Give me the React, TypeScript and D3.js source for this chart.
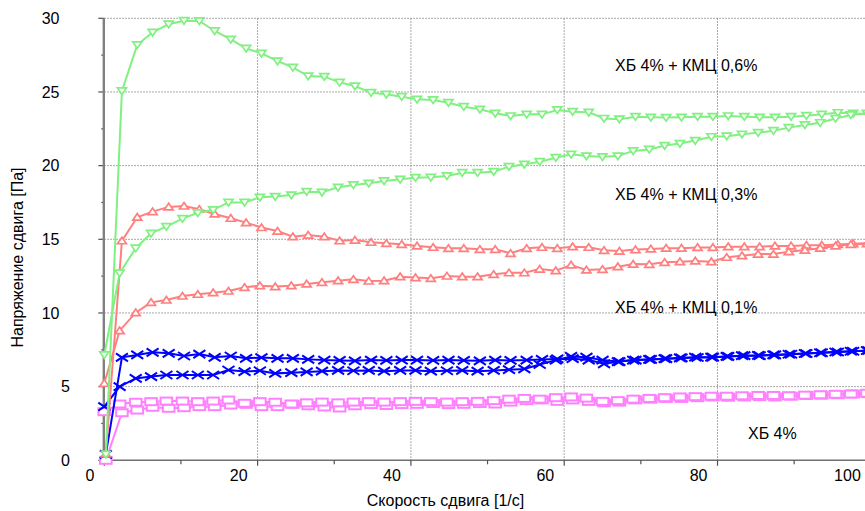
import React from "react";
import * as d3 from "d3";

// shear rate grids (1/s): up-ramp and down-ramp measurement points
const shearUp = [0.2, 2.3, 4.3, 6.3, 8.4, 10.4, 12.4, 14.4, 16.5, 18.5, 20.5, 22.6, 24.6, 26.6, 28.7, 30.7, 32.7, 34.8, 36.8, 38.8, 40.8, 42.9, 44.9, 46.9, 49.0, 51.0, 53.0, 55.1, 57.1, 59.1, 61.1, 63.2, 65.2, 67.2, 69.3, 71.3, 73.3, 75.3, 77.4, 79.4, 81.4, 83.5, 85.5, 87.5, 89.6, 91.6, 93.6, 95.7, 97.7, 99.7];
const shearDown = [0, 2.0, 4.1, 6.1, 8.1, 10.2, 12.2, 14.2, 16.2, 18.3, 20.3, 22.3, 24.4, 26.4, 28.4, 30.5, 32.5, 34.5, 36.5, 38.6, 40.6, 42.6, 44.7, 46.7, 48.7, 50.8, 52.8, 54.8, 56.8, 58.9, 60.9, 62.9, 65.0, 67.0, 69.0, 71.1, 73.1, 75.1, 77.1, 79.2, 81.2, 83.2, 85.3, 87.3, 89.3, 91.4, 93.4, 95.4, 97.4, 99.5];

// ХБ 4% + КМЦ 0,6%
const green06Up = [0.4, 25.07, 28.2, 29.05, 29.6, 29.84, 29.82, 29.14, 28.57, 27.96, 27.62, 27.1, 26.67, 26.08, 26.04, 25.65, 25.4, 24.95, 24.84, 24.68, 24.5, 24.46, 24.27, 24.0, 23.82, 23.55, 23.37, 23.48, 23.48, 23.78, 23.66, 23.62, 23.2, 23.15, 23.32, 23.28, 23.26, 23.28, 23.32, 23.32, 23.37, 23.32, 23.28, 23.28, 23.32, 23.39, 23.48, 23.59, 23.55, 23.5];
const green06Down = [7.15, 12.7, 14.4, 15.4, 15.86, 16.4, 16.8, 17.0, 17.5, 17.5, 17.85, 17.9, 18.0, 18.23, 18.19, 18.53, 18.69, 18.8, 18.96, 19.07, 19.18, 19.21, 19.3, 19.52, 19.52, 19.59, 19.93, 20.09, 20.27, 20.54, 20.77, 20.65, 20.6, 20.65, 21.0, 21.1, 21.36, 21.5, 21.7, 21.96, 22.0, 22.13, 22.24, 22.37, 22.58, 22.76, 22.91, 23.2, 23.44, 23.55];

// ХБ 4% + КМЦ 0,3%
const red03Up = [0.43, 14.9, 16.5, 16.88, 17.2, 17.26, 17.04, 16.72, 16.43, 16.13, 15.8, 15.56, 15.18, 15.29, 15.18, 14.9, 14.95, 14.8, 14.73, 14.66, 14.55, 14.46, 14.39, 14.39, 14.32, 14.32, 14.05, 14.39, 14.46, 14.39, 14.5, 14.46, 14.25, 14.2, 14.3, 14.35, 14.4, 14.4, 14.45, 14.45, 14.5, 14.5, 14.5, 14.55, 14.55, 14.6, 14.6, 14.65, 14.7, 14.75];
const red03Down = [5.23, 8.8, 10.02, 10.72, 10.88, 11.15, 11.27, 11.38, 11.49, 11.74, 11.85, 11.79, 11.85, 11.97, 12.08, 12.19, 12.28, 12.17, 12.19, 12.46, 12.4, 12.35, 12.51, 12.46, 12.46, 12.62, 12.73, 12.73, 12.98, 12.87, 13.26, 12.92, 12.96, 13.14, 13.32, 13.3, 13.44, 13.48, 13.53, 13.48, 13.78, 13.89, 14.0, 14.0, 14.16, 14.27, 14.4, 14.55, 14.65, 14.7];

// ХБ 4% + КМЦ 0,1%
const blue01Up = [0.4, 6.99, 7.15, 7.33, 7.26, 7.08, 7.21, 6.99, 7.08, 6.92, 6.97, 6.92, 6.92, 6.85, 6.8, 6.78, 6.75, 6.8, 6.78, 6.8, 6.8, 6.78, 6.8, 6.78, 6.75, 6.8, 6.78, 6.8, 6.85, 6.88, 6.9, 6.8, 6.55, 6.7, 6.8, 6.85, 6.9, 6.95, 6.98, 7.0, 7.05, 7.1, 7.1, 7.15, 7.2, 7.25, 7.3, 7.35, 7.4, 7.45];
const blue01Down = [3.64, 5.0, 5.56, 5.68, 5.79, 5.79, 5.79, 5.79, 6.13, 6.02, 6.08, 5.9, 5.95, 6.0, 6.05, 6.1, 6.08, 6.1, 6.05, 6.1, 6.1, 6.05, 6.08, 6.1, 6.05, 6.1, 6.15, 6.2, 6.5, 6.8, 7.05, 7.0, 6.8, 6.7, 6.8, 6.85, 6.9, 6.95, 7.0, 7.0, 7.05, 7.1, 7.12, 7.15, 7.2, 7.25, 7.3, 7.35, 7.4, 7.45];

// ХБ 4%
const pink0Up = [0, 3.23, 3.41, 3.6, 3.53, 3.57, 3.64, 3.64, 3.75, 3.8, 3.64, 3.64, 3.8, 3.7, 3.62, 3.55, 3.7, 3.78, 3.72, 3.78, 3.8, 3.85, 3.78, 3.8, 3.85, 3.82, 3.95, 4.05, 4.1, 4.0, 4.1, 4.0, 3.9, 3.95, 4.1, 4.15, 4.2, 4.2, 4.25, 4.3, 4.28, 4.3, 4.32, 4.3, 4.35, 4.4, 4.42, 4.45, 4.5, 4.52];
const pink0Down = [3.3, 3.82, 3.94, 3.98, 4.02, 4.02, 3.98, 4.02, 4.09, 3.87, 3.98, 3.94, 3.82, 3.9, 3.95, 3.9, 3.95, 3.98, 3.95, 3.98, 4.0, 3.98, 3.95, 3.98, 4.0, 4.05, 4.15, 4.2, 4.15, 4.25, 4.3, 4.22, 4.0, 4.05, 4.15, 4.2, 4.25, 4.3, 4.32, 4.35, 4.35, 4.38, 4.4, 4.4, 4.38, 4.42, 4.45, 4.48, 4.5, 4.55];

const xMajorTicks = [0, 20, 40, 60, 80, 100];
const xMinorTicks = [10, 30, 50, 70, 90];
const yMajorTicks = [0, 5, 10, 15, 20, 25, 30];
const yMinorTicks = [2.5, 7.5, 12.5, 17.5, 22.5, 27.5];

const labels = [
  { text: "ХБ 4% + КМЦ 0,6%", x: 615, y: 71 },
  { text: "ХБ 4% + КМЦ 0,3%", x: 615, y: 199.5 },
  { text: "ХБ 4% + КМЦ 0,1%", x: 615, y: 313 },
  { text: "ХБ 4%", x: 748, y: 438.5 },
];

const W = 865;
const H = 511;
const FONT = "'Liberation Sans', Arial, sans-serif";
const FS = 16;

type Marker = "down" | "up" | "cross" | "rect";

const seriesList: { name: string; xs: number[]; ys: number[]; color: string; marker: Marker }[] = [
  { name: "pinkUp", xs: shearUp, ys: pink0Up, color: "#ff80ff", marker: "rect" },
  { name: "pinkDown", xs: shearDown, ys: pink0Down, color: "#ff80ff", marker: "rect" },
  { name: "blueUp", xs: shearUp, ys: blue01Up, color: "#0000ff", marker: "cross" },
  { name: "blueDown", xs: shearDown, ys: blue01Down, color: "#0000ff", marker: "cross" },
  { name: "redUp", xs: shearUp, ys: red03Up, color: "#ff7f7f", marker: "up" },
  { name: "redDown", xs: shearDown, ys: red03Down, color: "#ff7f7f", marker: "up" },
  { name: "greenUp", xs: shearUp, ys: green06Up, color: "#80f080", marker: "down" },
  { name: "greenDown", xs: shearDown, ys: green06Down, color: "#80f080", marker: "down" },
];

function MarkerShape({ type, x, y, color }: { type: Marker; x: number; y: number; color: string }) {
  if (type === "down") {
    return <path d={`M${x - 4.5},${y - 3} L${x + 4.5},${y - 3} L${x},${y + 3.6} Z`} fill="#fff" stroke={color} strokeWidth={1.7} />;
  }
  if (type === "up") {
    return <path d={`M${x - 4.5},${y + 3} L${x + 4.5},${y + 3} L${x},${y - 3.6} Z`} fill="#fff" stroke={color} strokeWidth={1.7} />;
  }
  if (type === "cross") {
    return (
      <path d={`M${x - 6},${y - 4} L${x + 6},${y + 4} M${x - 6},${y + 4} L${x + 6},${y - 4}`} fill="none" stroke={color} strokeWidth={2} />
    );
  }
  return <rect x={x - 5.8} y={y - 3.5} width={11.6} height={7} fill="#fff" stroke={color} strokeWidth={2} />;
}

export default function App() {
  const x = d3.scaleLinear().domain([0, 100]).range([104.3, 870.8]);
  const y = d3.scaleLinear().domain([0, 30]).range([460.3, 18.3]);
  const line = d3
    .line<[number, number]>()
    .x((d) => x(d[0]))
    .y((d) => y(d[1]));

  return (
    <svg width={W} height={H} style={{ position: "absolute", left: 0, top: 0, background: "#fff" }} fontFamily={FONT}>
      <rect x={0} y={0} width={W} height={H} fill="#fff" />
      {/* grid */}
      {yMajorTicks.filter((t) => t > 0).map((t) => (
        <line key={"gy" + t} x1={x(0)} x2={W} y1={y(t)} y2={y(t)} stroke="#8c8c8c" strokeWidth={1} strokeDasharray="1.5,1.5" />
      ))}
      {xMajorTicks.filter((t) => t > 0).map((t) => (
        <line key={"gx" + t} x1={x(t)} x2={x(t)} y1={y(30)} y2={y(0)} stroke="#8c8c8c" strokeWidth={1} strokeDasharray="1.5,1.5" />
      ))}
      {/* axes */}
      <line x1={x(0)} x2={W} y1={y(0)} y2={y(0)} stroke="#707070" strokeWidth={1.5} />
      {xMajorTicks.map((t) => (
        <line key={"xt" + t} x1={x(t)} x2={x(t)} y1={y(0)} y2={y(0) + 5.5} stroke="#505050" strokeWidth={1.2} />
      ))}
      {xMinorTicks.map((t) => (
        <line key={"xm" + t} x1={x(t)} x2={x(t)} y1={y(0)} y2={y(0) + 4} stroke="#505050" strokeWidth={1.2} />
      ))}
      {yMajorTicks.map((t) => (
        <line key={"yt" + t} x1={x(0) - 6} x2={x(0)} y1={y(t)} y2={y(t)} stroke="#505050" strokeWidth={1.2} />
      ))}
      {yMinorTicks.map((t) => (
        <line key={"ym" + t} x1={x(0) - 3} x2={x(0)} y1={y(t)} y2={y(t)} stroke="#505050" strokeWidth={1.2} />
      ))}
      <line x1={x(0) - 0.5} x2={x(0) - 0.5} y1={y(30)} y2={y(0) + 1} stroke="#808080" strokeWidth={2.4} />
      {/* tick labels */}
      {xMajorTicks.map((t) => (
        <text key={"xl" + t} x={x(t) - 10} y={480.5} textAnchor="end" fontSize={FS} fill="#000">
          {t}
        </text>
      ))}
      {yMajorTicks.map((t) => (
        <text key={"yl" + t} x={String(t).length === 1 ? 70 : 59.5} y={y(t) + 5.7} textAnchor="end" fontSize={FS} fill="#000">
          {t}
        </text>
      ))}
      {/* axis titles */}
      <text x={445.5} y={506} textAnchor="middle" fontSize={FS} fill="#000">
        Скорость сдвига [1/с]
      </text>
      <text transform="translate(23,257.5) rotate(-90)" textAnchor="middle" fontSize={FS} fill="#000">
        Напряжение сдвига [Па]
      </text>
      {/* series */}
      {seriesList.map((s) => {
        const pts: [number, number][] = s.xs.map((xv, i) => [xv, s.ys[i]]);
        return (
          <g key={s.name}>
            <path d={line(pts) || ""} fill="none" stroke={s.color} strokeWidth={2} />
            {pts.map((p, i) => (
              <MarkerShape key={i} type={s.marker} x={x(p[0])} y={y(p[1])} color={s.color} />
            ))}
          </g>
        );
      })}
      {/* annotations */}
      {labels.map((l) => (
        <text key={l.text} x={l.x} y={l.y} fontSize={FS} fill="#000">
          {l.text}
        </text>
      ))}
    </svg>
  );
}
